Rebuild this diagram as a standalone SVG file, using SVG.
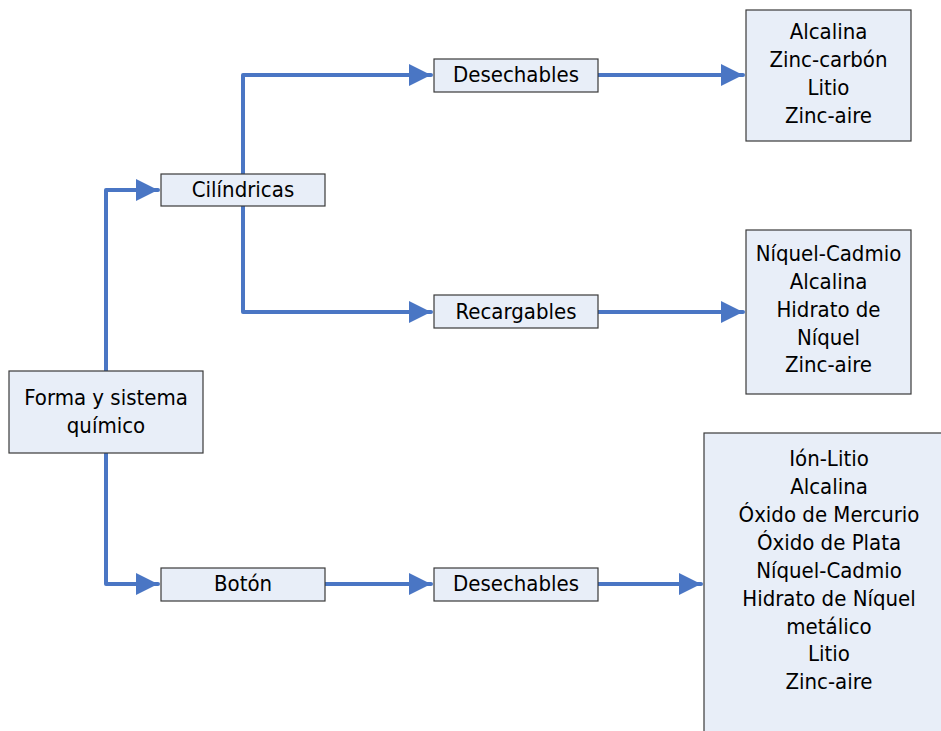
<svg xmlns="http://www.w3.org/2000/svg" width="941" height="731" viewBox="0 0 941 731">
  <style>
    .box { fill: #e8eef8; stroke: #3a3a3a; stroke-width: 1.2; }
    .lbl { font-family: "DejaVu Sans Condensed", "DejaVu Sans", sans-serif; font-size: 22px; fill: #000; text-anchor: middle; }
    .link { fill: none; stroke: #4a76c4; stroke-width: 4; stroke-linejoin: round; stroke-linecap: round; }
  </style>
  <defs>
    <marker id="head" markerUnits="userSpaceOnUse" markerWidth="22" markerHeight="24" refX="22" refY="12" orient="auto">
      <path d="M0,1 L22,12 L0,23 Z" fill="#4a76c4"/>
    </marker>
  </defs>
  <rect width="941" height="731" fill="#ffffff"/>

  <g id="connectors">
    <path class="link" d="M106,371 V190 H158" marker-end="url(#head)"/>
    <path class="link" d="M106,453 V584 H158" marker-end="url(#head)"/>
    <path class="link" d="M243,174 V75 H431" marker-end="url(#head)"/>
    <path class="link" d="M243,206 V312 H431" marker-end="url(#head)"/>
    <path class="link" d="M598,75 H743" marker-end="url(#head)"/>
    <path class="link" d="M598,312 H743" marker-end="url(#head)"/>
    <path class="link" d="M325,584 H431" marker-end="url(#head)"/>
    <path class="link" d="M598,584 H701" marker-end="url(#head)"/>
  </g>

  <g id="root">
    <rect class="box" x="9" y="371" width="194" height="82"/>
    <text class="lbl" x="106" y="405">Forma y sistema</text>
    <text class="lbl" x="106" y="433">químico</text>
  </g>

  <g id="cilindricas">
    <rect class="box" x="161" y="174" width="164" height="32"/>
    <text class="lbl" x="243" y="197">Cilíndricas</text>
  </g>

  <g id="boton">
    <rect class="box" x="161" y="568" width="164" height="33"/>
    <text class="lbl" x="243" y="591">Botón</text>
  </g>

  <g id="cil-desechables">
    <rect class="box" x="434" y="59" width="164" height="33"/>
    <text class="lbl" x="516" y="82">Desechables</text>
  </g>

  <g id="cil-recargables">
    <rect class="box" x="434" y="295" width="164" height="33"/>
    <text class="lbl" x="516" y="319">Recargables</text>
  </g>

  <g id="bot-desechables">
    <rect class="box" x="434" y="568" width="164" height="33"/>
    <text class="lbl" x="516" y="591">Desechables</text>
  </g>

  <g id="list-cil-desechables">
    <rect class="box" x="746" y="10" width="165" height="131"/>
    <text class="lbl" x="828.5" y="39">Alcalina</text>
    <text class="lbl" x="828.5" y="67">Zinc-carbón</text>
    <text class="lbl" x="828.5" y="95">Litio</text>
    <text class="lbl" x="828.5" y="123">Zinc-aire</text>
  </g>

  <g id="list-cil-recargables">
    <rect class="box" x="746" y="230" width="165" height="164"/>
    <text class="lbl" x="828.5" y="261">Níquel-Cadmio</text>
    <text class="lbl" x="828.5" y="289">Alcalina</text>
    <text class="lbl" x="828.5" y="317">Hidrato de</text>
    <text class="lbl" x="828.5" y="345">Níquel</text>
    <text class="lbl" x="828.5" y="372">Zinc-aire</text>
  </g>

  <g id="list-bot-desechables">
    <rect class="box" x="704" y="433" width="250" height="310"/>
    <text class="lbl" x="829" y="465.5">Ión-Litio</text>
    <text class="lbl" x="829" y="493.5">Alcalina</text>
    <text class="lbl" x="829" y="521.5">Óxido de Mercurio</text>
    <text class="lbl" x="829" y="549.5">Óxido de Plata</text>
    <text class="lbl" x="829" y="577.5">Níquel-Cadmio</text>
    <text class="lbl" x="829" y="605.5">Hidrato de Níquel</text>
    <text class="lbl" x="829" y="633.5">metálico</text>
    <text class="lbl" x="829" y="661">Litio</text>
    <text class="lbl" x="829" y="689">Zinc-aire</text>
  </g>
</svg>
